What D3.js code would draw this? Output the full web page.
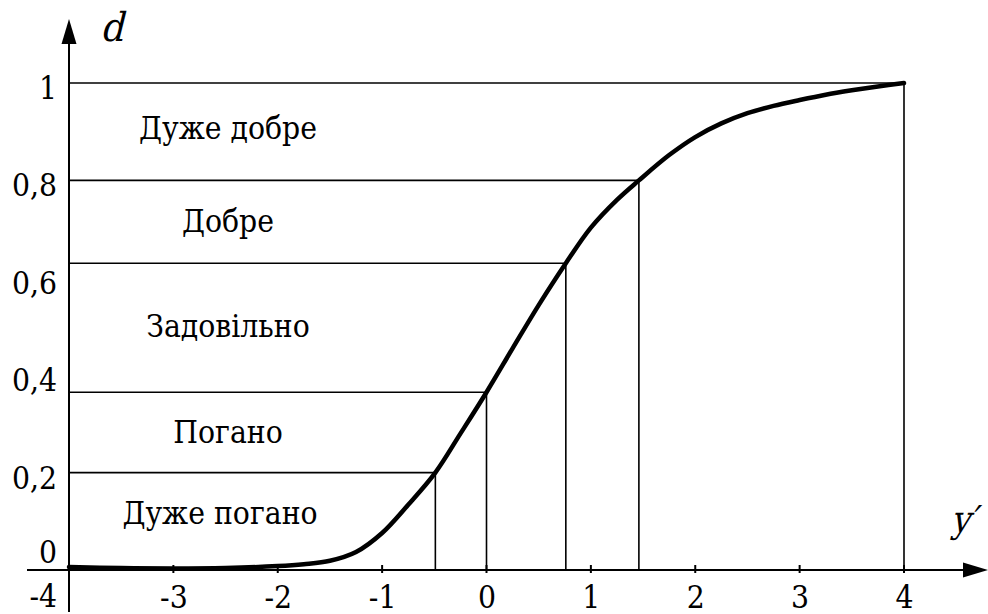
<!DOCTYPE html>
<html><head><meta charset="utf-8">
<script src="https://cdn.jsdelivr.net/npm/d3@7"></script>
<style>html,body{margin:0;padding:0;background:#fff;}svg{display:block;}
svg text{font-family:"DejaVu Serif Condensed","DejaVu Serif",serif;font-stretch:condensed;fill:#000;}
</style>
</head><body>
<svg id="chart" width="988" height="614"></svg>
<script>
// ---- data ----
const curveX = [-4, -3.5, -3, -2.5, -2, -1.75, -1.5, -1.25, -1, -0.75, -0.49, -0.25, 0, 0.25, 0.5, 0.76, 1, 1.25, 1.46, 1.75, 2, 2.25, 2.5, 2.75, 3, 3.25, 3.5, 3.75, 4];
const curveD = [0.006, 0.004, 0.003, 0.004, 0.008, 0.012, 0.019, 0.037, 0.076, 0.134, 0.2, 0.28, 0.365, 0.455, 0.544, 0.63, 0.703, 0.76, 0.8, 0.852, 0.889, 0.917, 0.938, 0.953, 0.965, 0.976, 0.985, 0.993, 1.0];
const boundaryX = [-0.49, 0, 0.76, 1.46, 4];
const boundaryD = [0.2, 0.365, 0.63, 0.8, 1];
const categories = ["Дуже погано", "Погано", "Задовільно", "Добре", "Дуже добре"];
const categoryD = [0.094, 0.261, 0.478, 0.694, 0.885];
const xTicks = [-3, -2, -1, 0, 1, 2, 3, 4];
const yTicks = [0.2, 0.4, 0.6, 0.8, 1];
const yTickLabels = ["0,2", "0,4", "0,6", "0,8", "1"];

// ---- layout ----
const svg = d3.select("#chart");
const x = d3.scaleLinear().domain([-4, 4]).range([69, 904]);
const y = d3.scaleLinear().domain([0, 1]).range([570, 83]);
const fs = 31.5;

boundaryX.forEach((bx, i) => {
  const bd = boundaryD[i];
  svg.append("line").attr("x1", x(-4)).attr("x2", x(bx)).attr("y1", y(bd)).attr("y2", y(bd))
    .attr("stroke", "#000").attr("stroke-width", 1.6);
  svg.append("line").attr("x1", x(bx)).attr("x2", x(bx)).attr("y1", y(bd)).attr("y2", y(0))
    .attr("stroke", "#000").attr("stroke-width", 1.6);
});

svg.append("line").attr("x1", 27).attr("x2", 970).attr("y1", y(0)).attr("y2", y(0))
  .attr("stroke", "#000").attr("stroke-width", 2);
svg.append("path").attr("d", `M988,${y(0)} L963,${y(0)-7.5} L963,${y(0)+7.5} Z`).attr("fill", "#000");
svg.append("line").attr("x1", x(-4)).attr("x2", x(-4)).attr("y1", 40).attr("y2", 612)
  .attr("stroke", "#000").attr("stroke-width", 2);
svg.append("path").attr("d", `M${x(-4)},19 L${x(-4)-7.5},44 L${x(-4)+7.5},44 Z`).attr("fill", "#000");

// x axis labels
const xAxis = d3.axisBottom(x).tickValues(xTicks).tickSize(0).tickFormat(d => String(d));
const gx = svg.append("g").attr("transform", `translate(0,${y(0)})`).call(xAxis);
gx.attr("font-family", null).attr("font-size", null);
gx.select(".domain").remove();
gx.selectAll("text").attr("font-size", fs).attr("y", 38).attr("dy", null);
xTicks.forEach(t => {
  svg.append("line").attr("x1", x(t)).attr("x2", x(t)).attr("y1", y(0) - 5).attr("y2", y(0) + 3)
    .attr("stroke", "#000").attr("stroke-width", 2);
});

// y axis labels
const yAxis = d3.axisLeft(y).tickValues(yTicks).tickSize(0).tickFormat((d, i) => yTickLabels[i]);
const gy = svg.append("g").attr("transform", `translate(${x(-4)},0)`).call(yAxis);
gy.attr("font-family", null).attr("font-size", null);
gy.select(".domain").remove();
gy.selectAll("text").attr("font-size", fs).attr("x", -12).attr("dy", 15.5);

svg.append("text").attr("x", 57).attr("y", 563).attr("text-anchor", "end").attr("font-size", fs).text("0");
svg.append("text").attr("x", 57).attr("y", 607).attr("text-anchor", "end").attr("font-size", fs).text("-4");

// axis titles (serif, slanted)
svg.append("text").attr("transform", "translate(100,41) skewX(-14)").attr("font-size", 40).text("d");
const yt = svg.append("text").attr("transform", "translate(951,532) skewX(-14)").attr("font-size", 37);
yt.append("tspan").text("y");
yt.append("tspan").attr("dx", -1).text("′");

// category labels
categories.forEach((c, i) => {
  svg.append("text").attr("x", i === 0 ? 220 : 228).attr("y", y(categoryD[i])).attr("text-anchor", "middle")
    .attr("font-size", fs).text(c);
});

// curve
const pts = curveX.map((v, i) => [v, curveD[i]]);
svg.append("path").datum(pts)
  .attr("d", d3.line().x(d => x(d[0])).y(d => y(d[1])).curve(d3.curveCatmullRom.alpha(0.5)))
  .attr("fill", "none").attr("stroke", "#000").attr("stroke-width", 4.5).attr("stroke-linecap", "round");
</script>
</body></html>
